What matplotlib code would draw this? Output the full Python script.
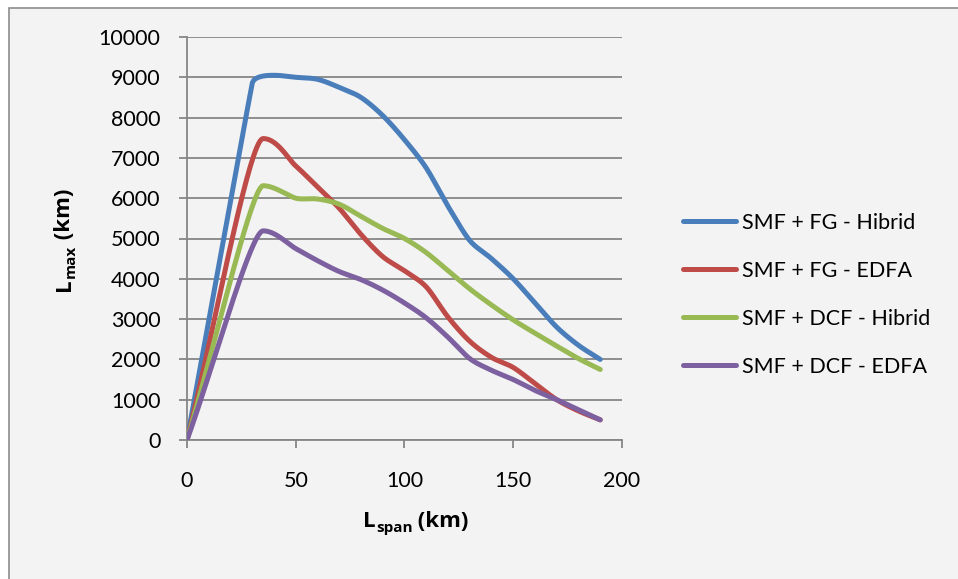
import numpy as np
import matplotlib
matplotlib.use("Agg")
import matplotlib.pyplot as plt
from matplotlib.patches import Rectangle

# ---- data ----
x_blue = [0, 30, 40, 50, 60, 70, 80, 90, 100, 110, 120, 130, 140, 150, 160, 170, 180, 190]
fg_hibrid = [0, 8850, 9050, 9000, 8950, 8750, 8500, 8050, 7450, 6750, 5800, 4950, 4500, 4000, 3400, 2800, 2350, 2000]

x_other = [0, 35, 50, 60, 70, 80, 90, 100, 110, 120, 130, 140, 150, 160, 170, 180, 190]
fg_edfa = [0, 7480, 6800, 6280, 5750, 5100, 4550, 4200, 3800, 3050, 2450, 2050, 1800, 1400, 1000, 720, 500]
dcf_hibrid = [0, 6310, 6000, 5980, 5850, 5550, 5250, 5000, 4650, 4200, 3750, 3350, 2980, 2650, 2330, 2020, 1750]
dcf_edfa = [0, 5190, 4750, 4450, 4180, 3980, 3720, 3400, 3030, 2550, 2020, 1730, 1500, 1230, 1000, 750, 500]

labels = ["SMF + FG - Hibrid", "SMF + FG - EDFA", "SMF + DCF - Hibrid", "SMF + DCF - EDFA"]
colors = ["#4a7ebb", "#be4b48", "#98b954", "#7d60a0"]
xticks = [0, 50, 100, 150, 200]
yticks = list(range(0, 10001, 1000))


def smooth(xs, ys, sx=2.17, sy=0.04026, n=40):
    """Bezier smoothing (Excel-like) computed in screen-proportional space."""
    P = np.column_stack([np.asarray(xs, float) * sx, np.asarray(ys, float) * sy])
    N = len(P)
    D = np.diff(P, axis=0)
    L = np.hypot(D[:, 0], D[:, 1])
    dirs = np.zeros_like(P)
    hl = np.zeros(N)
    for k in range(N):
        if k == 0:
            v = D[0]
            hl[k] = L[0] / 3
        elif k == N - 1:
            v = D[-1]
            hl[k] = L[-1] / 3
        else:
            if D[k - 1, 1] * D[k, 1] < 0:
                v = np.array([1.0, 0.0])
            else:
                v = P[k + 1] - P[k - 1]
            hl[k] = min(L[k - 1], L[k]) / 3
        dirs[k] = v / np.hypot(*v)
    out = []
    for k in range(N - 1):
        p1, p2 = P[k], P[k + 1]
        h = min(hl[k], L[k] / 3) if k > 0 else min(L[k] / 3, hl[k])
        h2 = hl[k + 1]
        c1 = p1 + dirs[k] * h
        c2 = p2 - dirs[k + 1] * h2
        t = np.linspace(0, 1, n)[:, None]
        seg = (1 - t) ** 3 * p1 + 3 * (1 - t) ** 2 * t * c1 + 3 * (1 - t) * t ** 2 * c2 + t ** 3 * p2
        out.append(seg if k == 0 else seg[1:])
    a = np.vstack(out)
    return a[:, 0] / sx, a[:, 1] / sy


plt.rcParams['font.family'] = ['Lato', 'DejaVu Sans']

W, H = 958, 579
fig = plt.figure(figsize=(W / 100, H / 100), dpi=100, facecolor='white')
fig.patches.append(Rectangle((8.5 / W, -0.1), 1.2, 1.1 - 7.5 / H,
                             transform=fig.transFigure, facecolor='#f3f3f3',
                             edgecolor='#8c8c8c', lw=1.2, zorder=-5))

ax = fig.add_axes([187 / W, 1 - 440 / H, 435 / W, 403 / H])
ax.set_facecolor('none')

series = [(x_blue, fg_hibrid), (x_other, fg_edfa), (x_other, dcf_hibrid), (x_other, dcf_edfa)]
for (xs, ys), lab, c in zip(series, labels, colors):
    px, py = smooth(xs, ys)
    ax.plot(px, py, color=c, lw=3.6, label=lab, solid_capstyle='round', solid_joinstyle='round', zorder=3)

ax.set_xlim(0, 200)
ax.set_ylim(0, 10000)
ax.set_xticks(xticks)
ax.set_yticks(yticks)
ax.yaxis.grid(True, color='#868686', lw=1.3)
ax.set_axisbelow(True)
for s in ['top', 'right']:
    ax.spines[s].set_visible(False)
for s in ['left', 'bottom']:
    ax.spines[s].set_color('#868686')
    ax.spines[s].set_linewidth(1.3)
ax.tick_params(axis='both', direction='out', length=6, width=1.3, color='#868686',
               labelsize=15.5, labelcolor='black')
ax.tick_params(axis='x', pad=16)
ax.tick_params(axis='y', pad=13)

leg = ax.legend(loc='center left', bbox_to_anchor=(664 / W, 1 - 295 / H),
                bbox_transform=fig.transFigure, frameon=False, fontsize=15.5,
                handlelength=2.45, handletextpad=0.25, labelspacing=1.3)

# ---- axis titles with subscripts (bold), laid out piece by piece ----
lab_font = dict(family=['Open Sans', 'DejaVu Sans'], fontweight='bold', color='black')
renderer = fig.canvas.get_renderer()


def width_px(s, size):
    t = fig.text(0, 0, s, fontsize=size, **lab_font)
    w = t.get_window_extent(renderer).width
    t.remove()
    return w


pieces = [('L', 16, 0), ('span', 11, 5), (' (km)', 16, 0)]
total = sum(width_px(s, fs) for s, fs, _ in pieces)
cx, base = 416, 527
x0 = cx - total / 2
for s, fs, dy in pieces:
    fig.text(x0 / W, 1 - (base + dy) / H, s, ha='left', va='baseline', fontsize=fs, **lab_font)
    x0 += width_px(s, fs)

pieces_y = [('L', 16, 0), ('max', 11, 5), (' (km)', 16, 0)]
total = sum(width_px(s, fs) for s, fs, _ in pieces_y)
cy, basex = 240, 70
y0 = cy + total / 2
for s, fs, dx in pieces_y:
    fig.text((basex + dx) / W, 1 - y0 / H, s, ha='left', va='baseline', rotation=90,
             rotation_mode='anchor', fontsize=fs, **lab_font)
    y0 -= width_px(s, fs)

fig.savefig('out.png', dpi=100, facecolor=fig.get_facecolor())
